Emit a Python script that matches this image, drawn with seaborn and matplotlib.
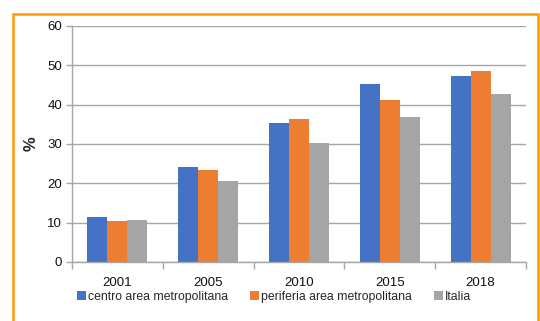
import matplotlib
matplotlib.use("Agg")
import matplotlib.pyplot as plt
import seaborn as sns
import pandas as pd
import numpy as np
from matplotlib.patches import Rectangle

years = ["2001", "2005", "2010", "2015", "2018"]
centro = [11.5, 24.1, 35.3, 45.2, 47.2]
periferia = [10.4, 23.5, 36.4, 41.3, 48.6]
italia = [10.7, 20.6, 30.3, 36.9, 42.6]
series_names = ["centro area metropolitana", "periferia area metropolitana", "Italia"]
colors = ["#4472C4", "#ED7D31", "#A5A5A5"]

df = pd.DataFrame({
    "anno": years * 3,
    "valore": centro + periferia + italia,
    "serie": [series_names[0]] * 5 + [series_names[1]] * 5 + [series_names[2]] * 5,
})

sns.set_theme(style="white")
plt.rcParams["font.family"] = ["Liberation Sans", "DejaVu Sans"]

fig = plt.figure(figsize=(5.4, 3.21), dpi=100)
ax = fig.add_axes([72 / 540, 1 - 262 / 321, (526 - 72) / 540, (262 - 26) / 321])

sns.barplot(data=df, x="anno", y="valore", hue="serie", palette=colors,
            width=0.66, ax=ax, saturation=1, legend=True, edgecolor="none")

ax.set_ylim(0, 60)
ax.set_yticks(range(0, 61, 10))
ax.set_xlim(-0.5, 4.5)
ax.yaxis.grid(True, color="#A6A6A6", linewidth=1.0)
ax.set_axisbelow(True)
for s in ["top", "right"]:
    ax.spines[s].set_visible(False)
ax.spines["left"].set_color("#A6A6A6")
ax.spines["bottom"].set_color("#A6A6A6")
ax.spines["left"].set_linewidth(1.0)
ax.spines["bottom"].set_linewidth(1.0)

tsize = 9.5
ax.set_xticks(np.arange(0, 5))
ax.set_xticklabels(years)
ax.set_xticks(np.arange(-0.5, 5.0, 1.0), minor=True)
ax.tick_params(axis="x", which="major", length=0, labelsize=tsize, colors="#111111", pad=11)
ax.tick_params(axis="x", which="minor", length=5, color="#A6A6A6", width=1, bottom=True)
ax.tick_params(axis="y", length=4, color="#A6A6A6", width=1, left=True, labelsize=tsize, colors="#111111", pad=3)

ax.set_xlabel("")
ax.set_ylabel("%", fontsize=12, fontweight="bold", labelpad=6)

handles, labels = ax.get_legend_handles_labels()
ax.legend(handles, labels, loc="center", bbox_to_anchor=(0.445, -0.148), ncol=3,
          frameon=False, fontsize=8.8, handlelength=0.75, handleheight=0.75,
          handletextpad=0.15, columnspacing=1.8, borderaxespad=0)

# orange frame
fig.patches.append(Rectangle((12.5 / 540, -0.1), (538 - 12.5) / 540, 1.1 - 13.5 / 321,
                             transform=fig.transFigure, fill=False,
                             edgecolor="#FF9900", linewidth=1.8, clip_on=False))

fig.savefig("out.png", dpi=100)
